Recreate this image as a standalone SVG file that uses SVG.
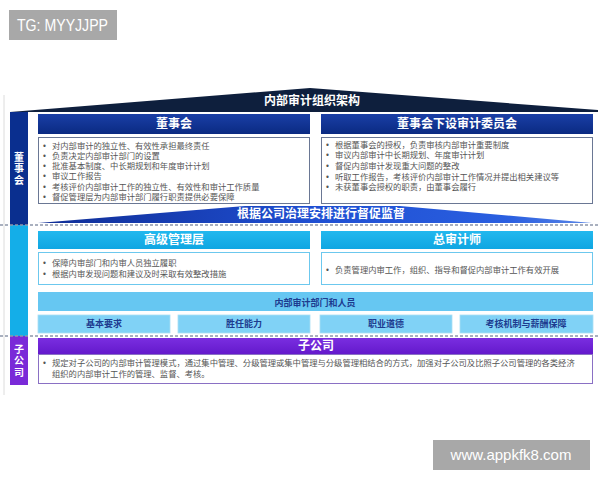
<svg xmlns="http://www.w3.org/2000/svg" width="600" height="480" viewBox="0 0 600 480">
<defs>
<linearGradient id="gNavy" x1="0" y1="0" x2="0" y2="1"><stop offset="0" stop-color="#1a3fa6"/><stop offset="1" stop-color="#0a2a82"/></linearGradient>
<linearGradient id="gWedge" x1="0" y1="0" x2="1" y2="0"><stop offset="0" stop-color="#0f2d95"/><stop offset="0.5" stop-color="#1f4fd2"/><stop offset="0.85" stop-color="#2a5fe0"/><stop offset="1" stop-color="#5a86e6"/></linearGradient>
<linearGradient id="gCyan" x1="0" y1="0" x2="0" y2="1"><stop offset="0" stop-color="#22b8ee"/><stop offset="1" stop-color="#0fa6e2"/></linearGradient>
<linearGradient id="gPurple" x1="0" y1="0" x2="0" y2="1"><stop offset="0" stop-color="#7a2ee0"/><stop offset="1" stop-color="#6419cc"/></linearGradient>
</defs>
<style>
text{font-family:"Noto Sans CJK SC","Noto Sans",sans-serif}
.hd{fill:#fff;font-size:12px;font-weight:bold;text-anchor:middle}
.bl{fill:#555;font-size:8.3px;font-family:"Liberation Sans","Noto Sans CJK SC",sans-serif}
.vt{fill:#fff;font-size:10px;font-weight:bold;text-anchor:middle;writing-mode:tb;letter-spacing:1.5px}
.sub{fill:#1d3b8f;font-size:9px;font-weight:bold;text-anchor:middle}
.wm{font-family:"Liberation Sans",Arial,sans-serif;fill:#fff}
.dash{stroke:#8d97aa;stroke-width:1.5;stroke-dasharray:3 2;fill:none}
</style>
<rect width="600" height="480" fill="#fff"/>
<line x1="4" y1="95" x2="4" y2="395" stroke="#dcdcdc" stroke-width="1"/>

<g id="roof">
<polygon points="10,112 310,88 598,110 598,112" fill="#0e1f3d"/>
<text x="312" y="105" class="hd" font-size="13">内部审计组织架构</text>
</g>

<g id="side-board">
<rect x="10" y="112" width="18" height="113" fill="#0a2f8f"/>
<text x="19" y="169" class="vt">董事会</text>
</g>
<g id="side-mgmt"><rect x="10" y="225" width="18" height="111" fill="#14aee8"/></g>
<g id="side-sub">
<rect x="10" y="336" width="18" height="49" fill="#7a2ad8"/>
<text x="19" y="361" class="vt" letter-spacing="3">子公司</text>
</g>

<g id="board">
<rect x="38" y="114" width="272" height="20" fill="url(#gNavy)"/>
<text x="174" y="128" class="hd">董事会</text>
<rect x="38.5" y="137.5" width="271" height="66" fill="#fff" stroke="#6a7794"/>
<text class="bl">
<tspan x="43" y="149">•</tspan><tspan x="52" y="149">对内部审计的独立性、有效性承担最终责任</tspan>
<tspan x="43" y="159">•</tspan><tspan x="52" y="159">负责决定内部审计部门的设置</tspan>
<tspan x="43" y="169">•</tspan><tspan x="52" y="169">批准基本制度、中长期规划和年度审计计划</tspan>
<tspan x="43" y="179">•</tspan><tspan x="52" y="179">审议工作报告</tspan>
<tspan x="43" y="190">•</tspan><tspan x="52" y="190">考核评价内部审计工作的独立性、有效性和审计工作质量</tspan>
<tspan x="43" y="200">•</tspan><tspan x="52" y="200">督促管理层为内部审计部门履行职责提供必要保障</tspan>
</text>
</g>

<g id="committee">
<rect x="321" y="114" width="272" height="20" fill="url(#gNavy)"/>
<text x="457" y="128" class="hd">董事会下设审计委员会</text>
<rect x="321.5" y="137.5" width="271" height="66" fill="#fff" stroke="#6a7794"/>
<text class="bl">
<tspan x="326" y="148">•</tspan><tspan x="335" y="148">根据董事会的授权，负责审核内部审计重要制度</tspan>
<tspan x="326" y="158">•</tspan><tspan x="335" y="158">审议内部审计中长期规划、年度审计计划</tspan>
<tspan x="326" y="169">•</tspan><tspan x="335" y="169">督促内部审计发现重大问题的整改</tspan>
<tspan x="326" y="180">•</tspan><tspan x="335" y="180">听取工作报告，考核评价内部审计工作情况并提出相关建议等</tspan>
<tspan x="326" y="190">•</tspan><tspan x="335" y="190">未获董事会授权的职责，由董事会履行</tspan>
</text>
</g>

<g id="supervision">
<polygon points="38,223 245,206 400,206 592,223" fill="url(#gWedge)"/>
<text x="321" y="218" class="hd" font-size="11">根据公司治理安排进行督促监督</text>
</g>

<g id="connectors">
<line x1="0" y1="225" x2="600" y2="225" class="dash"/>
<line x1="0" y1="336" x2="600" y2="336" class="dash"/>
</g>

<g id="senior">
<rect x="38" y="231" width="272" height="18" fill="url(#gCyan)"/>
<text x="174" y="244" class="hd">高级管理层</text>
<rect x="38.5" y="252.5" width="271" height="32" fill="#fff" stroke="#6cc8ee"/>
<text class="bl">
<tspan x="43" y="266">•</tspan><tspan x="52" y="266">保障内审部门和内审人员独立履职</tspan>
<tspan x="43" y="277">•</tspan><tspan x="52" y="277">根据内审发现问题和建议及时采取有效整改措施</tspan>
</text>
</g>

<g id="chief-auditor">
<rect x="321" y="231" width="272" height="18" fill="url(#gCyan)"/>
<text x="457" y="244" class="hd">总审计师</text>
<rect x="321.5" y="252.5" width="271" height="32" fill="#fff" stroke="#6cc8ee"/>
<text class="bl"><tspan x="326" y="273">•</tspan><tspan x="335" y="273">负责管理内审工作，组织、指导和督促内部审计工作有效开展</tspan></text>
</g>

<g id="audit-dept">
<rect x="38" y="292" width="555" height="19" fill="#66c7f2"/>
<text x="315" y="306" class="sub" font-size="12">内部审计部门和人员</text>
</g>
<g id="req"><rect x="38" y="315" width="132" height="18" fill="#80d2f6" stroke="#a9def5" stroke-width="0.8"/><text x="104" y="327" class="sub">基本要求</text></g>
<g id="comp"><rect x="178" y="315" width="132" height="18" fill="#80d2f6" stroke="#a9def5" stroke-width="0.8"/><text x="244" y="327" class="sub">胜任能力</text></g>
<g id="ethics"><rect x="320" y="315" width="132" height="18" fill="#80d2f6" stroke="#a9def5" stroke-width="0.8"/><text x="386" y="327" class="sub">职业道德</text></g>
<g id="assess"><rect x="460" y="315" width="133" height="18" fill="#80d2f6" stroke="#a9def5" stroke-width="0.8"/><text x="526" y="327" class="sub">考核机制与薪酬保障</text></g>

<g id="subsidiary">
<rect x="38" y="338" width="555" height="16" fill="url(#gPurple)"/>
<text x="316" y="350" class="hd">子公司</text>
<rect x="38.5" y="354.5" width="554" height="29" fill="#fff" stroke="#8a70c4"/>
<text class="bl">
<tspan x="43" y="366">•</tspan><tspan x="52" y="366">规定对子公司的内部审计管理模式，通过集中管理、分级管理或集中管理与分级管理相结合的方式，加强对子公司及比照子公司管理的各类经济</tspan>
<tspan x="52" y="377">组织的内部审计工作的管理、监督、考核。</tspan>
</text>
</g>

<g id="watermark-tg">
<rect x="9" y="10" width="108" height="30" fill="#a8a8a8"/>
<text x="17" y="31" class="wm" font-size="16" textLength="91" lengthAdjust="spacingAndGlyphs">TG: MYYJJPP</text>
</g>
<g id="watermark-url">
<rect x="433" y="440" width="157" height="30" fill="#a8a8a8"/>
<text x="511" y="460" class="wm" font-size="15" text-anchor="middle">www.appkfk8.com</text>
</g>
</svg>
